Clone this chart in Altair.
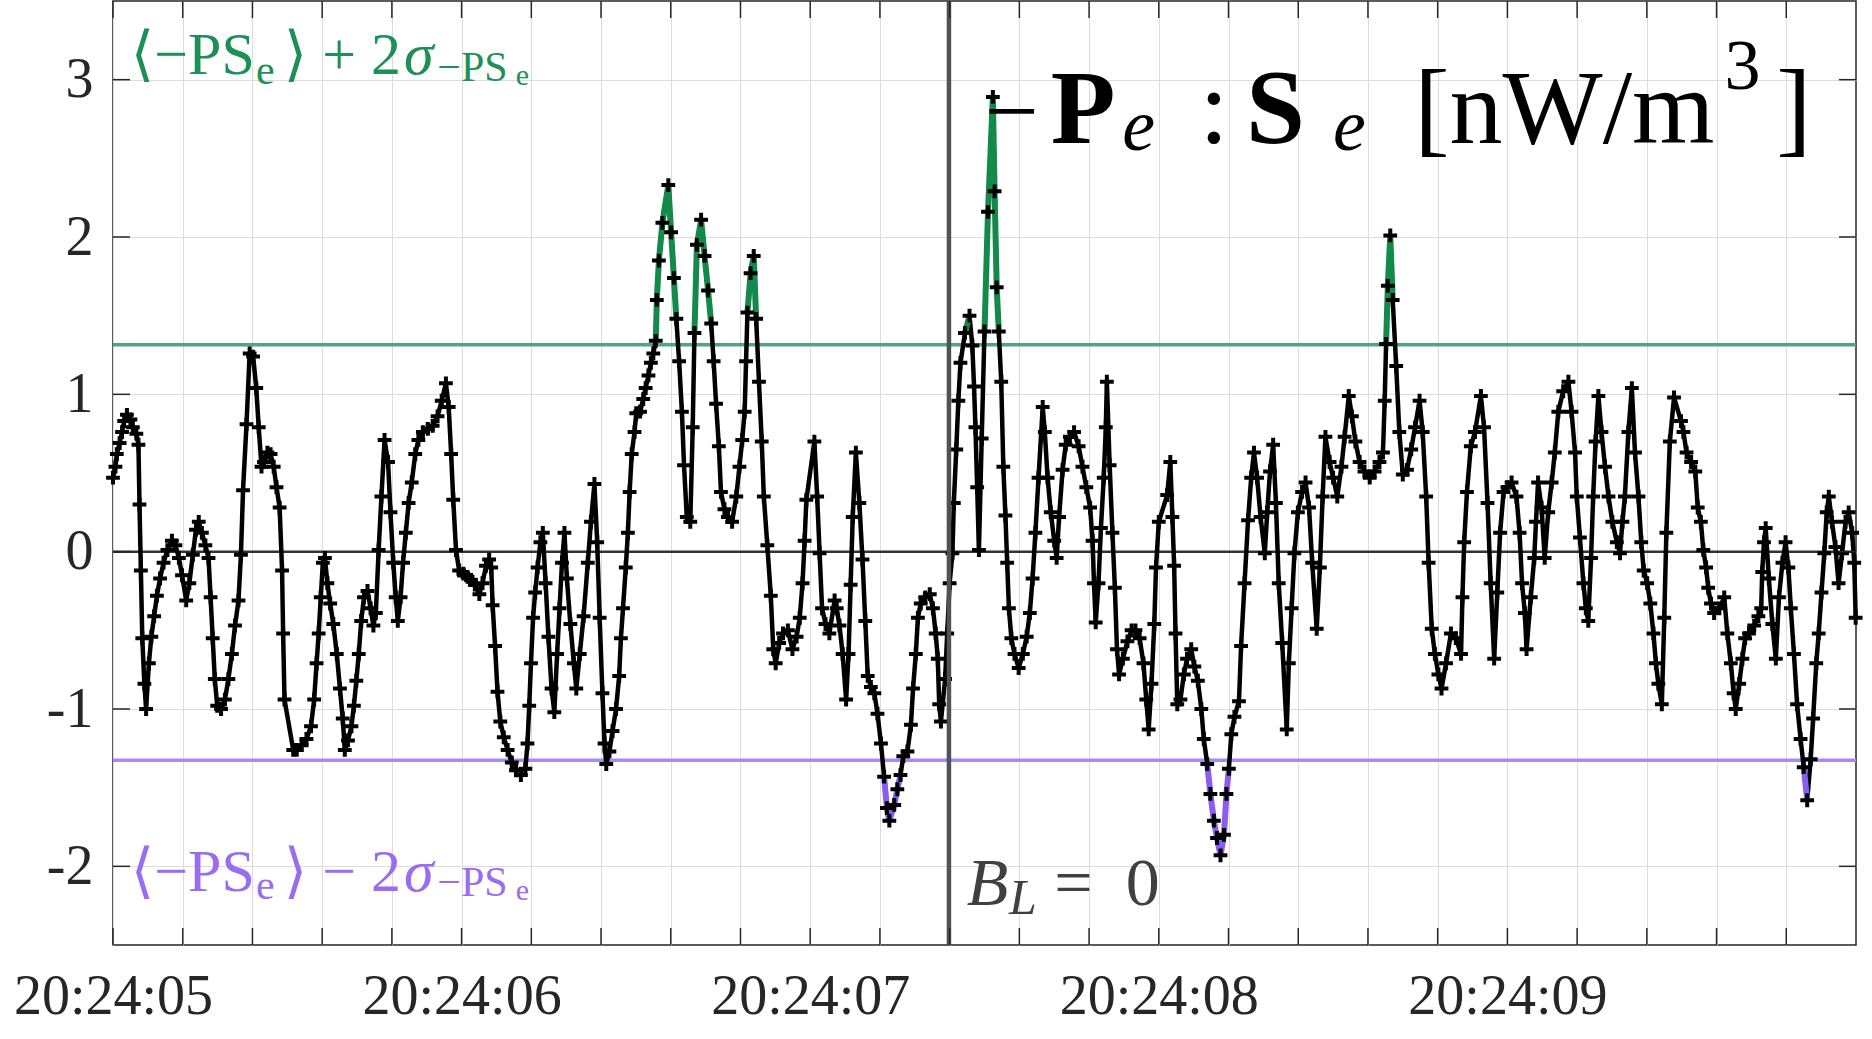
import altair as alt
import pandas as pd

# ---------------- data (seconds after 20:24:05, nW/m^3) ----------------
time_s = [
    0.000, 0.007, 0.011, 0.019, 0.026, 0.032, 0.040, 0.050, 0.057, 0.067, 0.073, 0.076, 0.080, 0.084, 0.090, 0.095,
    0.103, 0.110, 0.118, 0.126, 0.135, 0.145, 0.156, 0.169, 0.179, 0.189, 0.198, 0.210, 0.219, 0.229, 0.238, 0.246,
    0.255, 0.265, 0.274, 0.280, 0.286, 0.292, 0.299, 0.310, 0.321, 0.331, 0.341, 0.350, 0.360, 0.367, 0.373, 0.383,
    0.392, 0.402, 0.411, 0.418, 0.426, 0.433, 0.443, 0.452, 0.461, 0.469, 0.478, 0.485, 0.488, 0.492,
    0.517, 0.527, 0.541, 0.555, 0.568, 0.577, 0.584, 0.590, 0.596, 0.602, 0.608, 0.615, 0.623, 0.632, 0.642, 0.651,
    0.659, 0.665, 0.674, 0.684, 0.691, 0.698, 0.705, 0.712, 0.720, 0.730, 0.739, 0.747, 0.754, 0.762, 0.770, 0.779,
    0.789, 0.796, 0.804, 0.811, 0.817, 0.825, 0.832, 0.840, 0.848, 0.857, 0.867, 0.876, 0.889, 0.903, 0.917, 0.931,
    0.943, 0.955, 0.963, 0.970, 0.976, 0.984, 0.993,
    1.005, 1.017, 1.027, 1.038, 1.051, 1.060, 1.070, 1.079, 1.085, 1.089, 1.096, 1.103, 1.111, 1.121, 1.132, 1.144,
    1.156, 1.170, 1.183, 1.189, 1.194, 1.199, 1.205, 1.211, 1.218, 1.226, 1.233, 1.241, 1.249, 1.258, 1.266, 1.274,
    1.281, 1.288, 1.295, 1.302, 1.312, 1.322, 1.329, 1.339, 1.350, 1.362, 1.371, 1.381, 1.389, 1.396, 1.404, 1.410,
    1.415, 1.424, 1.433, 1.443, 1.452, 1.457, 1.463, 1.471, 1.477, 1.482, 1.488, 1.496, 1.501,
    1.512, 1.521, 1.528, 1.536, 1.543, 1.550, 1.557, 1.560, 1.566, 1.576, 1.593, 1.601, 1.609, 1.616, 1.624, 1.632,
    1.638, 1.646, 1.656, 1.663, 1.668, 1.675, 1.687, 1.697, 1.707, 1.716, 1.723, 1.730, 1.738, 1.744, 1.754, 1.764,
    1.776, 1.788, 1.797, 1.805, 1.812, 1.816, 1.820, 1.829, 1.838, 1.845, 1.853, 1.861, 1.867, 1.877, 1.887, 1.894,
    1.901, 1.911, 1.922, 1.936, 1.949, 1.961, 1.970, 1.978, 1.984, 1.989,
    2.012, 2.020, 2.027, 2.034, 2.044, 2.055, 2.070, 2.076, 2.084, 2.093, 2.103, 2.110, 2.116, 2.122, 2.131, 2.141,
    2.150, 2.158, 2.165, 2.174, 2.184, 2.193, 2.203, 2.212, 2.220, 2.227, 2.241, 2.250, 2.259, 2.267, 2.279, 2.289,
    2.295, 2.303, 2.309, 2.317, 2.330, 2.343, 2.352, 2.360, 2.366, 2.370, 2.375, 2.387, 2.393, 2.400, 2.408, 2.412,
    2.419, 2.425, 2.431, 2.444, 2.457, 2.465, 2.470, 2.474, 2.479, 2.484,
    2.492, 2.500, 2.510, 2.524, 2.529, 2.535, 2.541, 2.548, 2.554, 2.560, 2.565, 2.570, 2.577, 2.586, 2.598, 2.610,
    2.621, 2.630, 2.638, 2.646, 2.655, 2.667, 2.673, 2.681, 2.690, 2.700, 2.707, 2.714, 2.724, 2.733, 2.745, 2.757,
    2.770, 2.781, 2.792, 2.803, 2.810, 2.814, 2.819, 2.827, 2.834, 2.842, 2.848, 2.851, 2.859, 2.867, 2.874, 2.880,
    2.886, 2.897, 2.910, 2.922, 2.933, 2.945, 2.956, 2.964, 2.971, 2.979, 2.987, 2.992, 3.000,
    3.024, 3.033, 3.039, 3.044, 3.048, 3.053, 3.062, 3.072, 3.081, 3.093, 3.102, 3.112, 3.122, 3.129, 3.139, 3.148,
    3.158, 3.167, 3.177, 3.187, 3.194, 3.201, 3.208, 3.217, 3.230, 3.236, 3.246, 3.256, 3.265, 3.273, 3.282, 3.292,
    3.304, 3.311, 3.319, 3.328, 3.336, 3.344, 3.354, 3.367, 3.373, 3.381, 3.389, 3.399, 3.411, 3.421, 3.431, 3.440,
    3.453, 3.462, 3.470, 3.478,
    3.490, 3.500, 3.512, 3.524, 3.533, 3.545, 3.554, 3.564, 3.576, 3.590, 3.605, 3.619, 3.633, 3.643, 3.648, 3.652,
    3.657, 3.664, 3.671, 3.681, 3.690, 3.700, 3.712, 3.724, 3.735, 3.748, 3.757, 3.767, 3.774, 3.783, 3.792, 3.802,
    3.811, 3.824, 3.838, 3.852, 3.867, 3.871, 3.876, 3.884, 3.895, 3.907, 3.924, 3.933, 3.943, 3.952, 3.962, 3.971,
    3.979, 3.989,
    4.000, 4.012, 4.026, 4.035, 4.042, 4.050, 4.055, 4.067, 4.077, 4.082, 4.088, 4.098, 4.107, 4.117, 4.127, 4.136,
    4.146, 4.160, 4.175, 4.184, 4.194, 4.199, 4.208, 4.218, 4.225, 4.232, 4.240, 4.246, 4.253, 4.261, 4.270, 4.280,
    4.290, 4.301, 4.314, 4.323, 4.330, 4.337, 4.347, 4.357, 4.366, 4.376, 4.384, 4.391, 4.401, 4.410, 4.419, 4.426,
    4.433, 4.443, 4.450, 4.456, 4.466, 4.478,
    4.498, 4.505, 4.514, 4.527, 4.539, 4.546, 4.555, 4.562, 4.570, 4.576, 4.584, 4.593, 4.608, 4.622, 4.631, 4.641,
    4.649, 4.655, 4.665, 4.674, 4.682, 4.693, 4.708, 4.720, 4.728, 4.731, 4.736, 4.741, 4.750, 4.760, 4.770, 4.779,
    4.789, 4.798, 4.806, 4.813, 4.822, 4.831, 4.841, 4.850, 4.860, 4.870, 4.877, 4.886, 4.893, 4.901, 4.909, 4.916,
    4.922, 4.931, 4.941, 4.950, 4.960, 4.970, 4.979, 4.989, 4.995, 4.999,
]

ps_value = [
    0.47, 0.54, 0.62, 0.69, 0.76, 0.83, 0.87, 0.84, 0.79, 0.75, 0.68, 0.30, -0.12, -0.55, -0.84, -1.00,
    -0.71, -0.54, -0.41, -0.28, -0.17, -0.07, 0.01, 0.07, 0.04, -0.04, -0.15, -0.31, -0.20, -0.02, 0.14, 0.19,
    0.12, 0.04, -0.04, -0.29, -0.55, -0.81, -0.98, -1.00, -0.94, -0.81, -0.65, -0.47, -0.31, -0.02, 0.39, 0.81,
    1.26, 1.24, 1.04, 0.79, 0.54, 0.57, 0.63, 0.62, 0.54, 0.41, 0.28, -0.12, -0.52, -0.94,
    -1.26, -1.26, -1.23, -1.19, -1.11, -0.94, -0.71, -0.52, -0.29, -0.07, -0.04, -0.20, -0.33, -0.46, -0.65, -0.87,
    -1.06, -1.26, -1.20, -1.11, -0.98, -0.82, -0.65, -0.44, -0.29, -0.25, -0.36, -0.47, -0.39, 0.01, 0.35, 0.71,
    0.57, 0.25, -0.07, -0.29, -0.44, -0.29, -0.07, 0.12, 0.31, 0.44, 0.62, 0.71, 0.76, 0.78, 0.80, 0.86,
    0.96, 1.07, 0.92, 0.62, 0.33, 0.01, -0.12,
    -0.14, -0.16, -0.18, -0.21, -0.27, -0.20, -0.09, -0.05, -0.10, -0.34, -0.60, -0.89, -1.08, -1.18, -1.26, -1.34,
    -1.39, -1.42, -1.38, -1.22, -0.98, -0.71, -0.42, -0.26, -0.10, 0.06, 0.12, -0.20, -0.54, -0.87, -1.02, -0.65,
    -0.36, -0.07, 0.12, -0.17, -0.46, -0.71, -0.87, -0.65, -0.41, -0.07, 0.19, 0.43, 0.06, -0.42, -0.90, -1.22,
    -1.35, -1.27, -1.14, -1.00, -0.79, -0.55, -0.36, -0.10, 0.12, 0.38, 0.62, 0.76, 0.88,
    0.89, 0.97, 1.04, 1.12, 1.20, 1.26, 1.34, 1.60, 1.85, 2.09, 2.33, 2.03, 1.74, 1.48, 1.21, 0.89,
    0.55, 0.22, 0.19, 0.79, 1.39, 1.95, 2.11, 1.88, 1.66, 1.45, 1.21, 0.94, 0.67, 0.38, 0.27, 0.22,
    0.19, 0.35, 0.54, 0.71, 0.89, 1.21, 1.52, 1.77, 1.88, 1.48, 1.08, 0.70, 0.35, 0.04, -0.28, -0.62,
    -0.71, -0.58, -0.52, -0.50, -0.62, -0.54, -0.42, -0.20, 0.07, 0.33,
    0.70, 0.35, -0.01, -0.36, -0.46, -0.52, -0.31, -0.36, -0.47, -0.65, -0.94, -0.65, -0.21, 0.22, 0.63, 0.31,
    -0.05, -0.44, -0.79, -0.86, -0.90, -1.03, -1.22, -1.43, -1.63, -1.71, -1.61, -1.51, -1.42, -1.30, -1.27, -1.10,
    -0.87, -0.65, -0.42, -0.33, -0.29, -0.27, -0.36, -0.52, -0.68, -0.97, -1.08, -0.81, -0.52, -0.20, -0.01, 0.31,
    0.65, 0.96, 1.20, 1.39, 1.50, 1.31, 1.05, 0.79, 0.41, 0.01,
    0.72, 1.40, 2.16, 2.89, 2.29, 1.68, 1.40, 1.08, 0.54, 0.23, -0.07, -0.36, -0.55, -0.65, -0.74, -0.65,
    -0.54, -0.39, -0.17, 0.12, 0.47, 0.92, 0.76, 0.47, 0.25, 0.07, -0.04, 0.22, 0.52, 0.68, 0.73, 0.76,
    0.67, 0.54, 0.41, 0.28, 0.07, -0.20, -0.45, -0.20, 0.15, 0.47, 0.79, 1.08, 0.55, 0.12, -0.23, -0.62,
    -0.78, -0.68, -0.57, -0.50, -0.50, -0.55, -0.71, -0.94, -1.13, -0.84, -0.46, -0.10, 0.19,
    0.36, 0.57, 0.22, -0.09, -0.52, -0.97, -0.94, -0.78, -0.68, -0.62, -0.73, -0.82, -1.00, -1.19, -1.35, -1.54,
    -1.71, -1.82, -1.93, -1.80, -1.54, -1.38, -1.16, -1.05, -0.95, -0.60, -0.20, 0.20, 0.47, 0.63, 0.47, 0.22,
    -0.01, 0.25, 0.51, 0.68, 0.31, -0.20, -0.58, -1.13, -0.71, -0.36, -0.01, 0.25, 0.38, 0.44, 0.28, -0.07,
    -0.49, -0.10, 0.35, 0.73,
    0.57, 0.47, 0.35, 0.54, 0.73, 0.99, 0.86, 0.70, 0.57, 0.51, 0.47, 0.51, 0.57, 0.63, 0.96, 1.32,
    1.69, 2.01, 1.60, 1.18, 0.76, 0.49, 0.52, 0.65, 0.79, 0.96, 0.76, 0.35, -0.07, -0.49, -0.65, -0.78,
    -0.87, -0.71, -0.52, -0.55, -0.65, -0.29, 0.06, 0.38, 0.67, 0.76, 0.99, 0.79, 0.31, -0.20, -0.68, -0.26,
    0.12, 0.38,
    0.41, 0.44, 0.35, 0.12, -0.20, -0.39, -0.62, -0.29, -0.04, 0.19, 0.44, 0.28, -0.04, 0.25, 0.44, 0.63,
    0.89, 1.02, 1.08, 0.89, 0.63, 0.35, 0.09, -0.20, -0.36, -0.44, -0.04, 0.35, 0.70, 0.99, 0.76, 0.54,
    0.35, 0.19, 0.06, -0.01, 0.19, 0.35, 0.76, 1.04, 0.63, 0.35, 0.06, -0.12, -0.20, -0.33, -0.52, -0.71,
    -0.84, -0.97, -0.42, 0.12, 0.70, 0.98,
    0.83, 0.76, 0.63, 0.57, 0.51, 0.28, 0.19, 0.01, -0.10, -0.23, -0.33, -0.39, -0.36, -0.29, -0.52, -0.71,
    -0.90, -1.00, -0.84, -0.68, -0.55, -0.52, -0.47, -0.41, -0.36, -0.13, 0.06, 0.15, -0.17, -0.46, -0.68, -0.29,
    -0.07, 0.06, -0.10, -0.36, -0.65, -0.97, -1.19, -1.37, -1.58, -1.32, -1.06, -0.71, -0.52, -0.26, -0.01, 0.25,
    0.35, 0.19, 0.03, -0.20, -0.01, 0.19, 0.25, 0.12, -0.07, -0.42,
]

upper_threshold = 1.315    # <-PS_e> + 2 sigma
lower_threshold = -1.325   # <-PS_e> - 2 sigma
bl_zero_time = 2.398       # B_L = 0 crossing

x_tick_values = [0.0, 0.2, 0.4, 0.6, 0.8, 1.0, 1.2, 1.4, 1.6, 1.8, 2.0, 2.2, 2.4,
                 2.6, 2.8, 3.0, 3.2, 3.4, 3.6, 3.8, 4.0, 4.2, 4.4, 4.6, 4.8]
x_label_times = [0, 1, 2, 3, 4]
x_label_texts = ["20:24:05", "20:24:06", "20:24:07", "20:24:08", "20:24:09"]
y_tick_values = [-2, -1, 0, 1, 2, 3]
y_tick_labels = ["-2", "-1", "0", "1", "2", "3"]

# annotation pieces (text, time, value, font size, style, weight, colour)
ann_text = ["\u2212", "P", "e", ":", "S", "e", "[nW/m", "3", "]",
            "\u27e8\u2212PS", "e", "\u27e9 + 2", "\u03c3", "\u2212PS", "e",
            "\u27e8\u2212PS", "e", "\u27e9 \u2212 2", "\u03c3", "\u2212PS", "e",
            "B", "L", "=", "0"]
ann_time = [2.500, 2.690, 2.895, 3.116, 3.250, 3.500, 3.733, 4.623, 4.771,
            0.051, 0.410, 0.490, 0.835, 0.930, 1.155,
            0.051, 0.410, 0.490, 0.835, 0.930, 1.155,
            2.449, 2.570, 2.700, 2.905]
ann_value = [2.597, 2.597, 2.550, 2.597, 2.597, 2.550, 2.597, 2.940, 2.597,
             3.037, 2.975, 3.037, 3.037, 2.990, 2.965,
             -2.157, -2.210, -2.157, -2.157, -2.190, -2.215,
             -2.247, -2.300, -2.247, -2.247]
ann_size = [96, 106, 74, 106, 106, 74, 106, 72, 106,
            60, 42, 60, 60, 42, 30,
            60, 42, 60, 60, 42, 30,
            68, 50, 68, 68]
ann_style = ["normal", "normal", "italic", "normal", "normal", "italic", "normal", "normal", "normal",
             "normal", "normal", "normal", "italic", "normal", "normal",
             "normal", "normal", "normal", "italic", "normal", "normal",
             "italic", "italic", "normal", "normal"]
ann_weight = ["normal", "bold", "normal", "normal", "bold", "normal", "normal", "normal", "normal"] + \
             ["normal"] * 16
ann_color = ["#000000"] * 9 + ["#1f8f58"] * 6 + ["#9a6cf0"] * 6 + ["#404040"] * 4

# ---------------- styling ----------------
FONT = "Liberation Serif, DejaVu Serif, serif"
PLOT_W, PLOT_H = 1743, 944
TICK_LEN = 17
LINE_GREEN, SEG_GREEN = "#52a47c", "#138a4c"
LINE_PURPLE, SEG_PURPLE = "#a98bef", "#8a5df0"

df = pd.DataFrame({"time": time_s, "value": ps_value})
above = df["value"] > upper_threshold
below = df["value"] < lower_threshold
df["up_run"] = (above != above.shift()).cumsum()
df["low_run"] = (below != below.shift()).cumsum()
up_df = df[above]
low_df = df[below]

x_expr = " : ".join(f"abs(datum.value - {t}) < 0.01 ? '{lab}'"
                    for t, lab in zip(x_label_times, x_label_texts)) + " : ''"
y_expr = " : ".join(f"datum.value == {v} ? '{lab}'"
                    for v, lab in zip(y_tick_values, y_tick_labels)) + " : ''"

x_axis = alt.Axis(values=x_tick_values, labelExpr=x_expr, title=None, ticks=False, domain=False,
                  grid=True, gridColor="#dcdcdc", gridWidth=1, labelFont=FONT, labelFontSize=56,
                  labelColor="#262626", labelPadding=24, labelFlush=False, labelOverlap=False,
                  labelLimit=0)
y_axis = alt.Axis(values=y_tick_values, labelExpr=y_expr, title=None, ticks=False, domain=False,
                  grid=True, gridColor="#dcdcdc", gridWidth=1, labelFont=FONT, labelFontSize=56,
                  labelColor="#262626", labelPadding=20, labelOverlap=False, labelLimit=0)
x_scale = alt.Scale(domain=[0, 5.0], nice=False, zero=False)
y_scale = alt.Scale(domain=[-2.5, 3.5], nice=False, zero=False)


def X(field="time"):
    return alt.X(f"{field}:Q", scale=x_scale, axis=x_axis)


def Y(field="value"):
    return alt.Y(f"{field}:Q", scale=y_scale, axis=y_axis)


layers = []
# threshold lines and zero line
layers.append(alt.Chart(pd.DataFrame({"value": [upper_threshold]}))
              .mark_rule(color=LINE_GREEN, strokeWidth=3.5).encode(y=Y()))
layers.append(alt.Chart(pd.DataFrame({"value": [lower_threshold]}))
              .mark_rule(color=LINE_PURPLE, strokeWidth=3.5).encode(y=Y()))
layers.append(alt.Chart(pd.DataFrame({"value": [0.0]}))
              .mark_rule(color="#333333", strokeWidth=2.5).encode(y=Y()))
# main series
layers.append(alt.Chart(df).mark_line(color="black", strokeWidth=4.5, strokeJoin="round")
              .encode(x=X(), y=Y(), order="time:Q"))
layers.append(alt.Chart(up_df).mark_line(color=SEG_GREEN, strokeWidth=6)
              .encode(x=X(), y=Y(), detail="up_run:N", order="time:Q"))
layers.append(alt.Chart(low_df).mark_line(color=SEG_PURPLE, strokeWidth=6)
              .encode(x=X(), y=Y(), detail="low_run:N", order="time:Q"))
layers.append(alt.Chart(df).mark_point(shape="M-1,0L1,0M0,-1L0,1", filled=False, color="black",
                                       strokeWidth=4, size=190, opacity=1)
              .encode(x=X(), y=Y()))
# B_L = 0 vertical line
layers.append(alt.Chart(pd.DataFrame({"time": [bl_zero_time]}))
              .mark_rule(color="#4d5359", strokeWidth=4.5).encode(x=X()))
# inward ticks
xt = pd.DataFrame({"time": x_tick_values})
yt = pd.DataFrame({"value": y_tick_values})
layers.append(alt.Chart(xt).mark_rule(color="#262626", strokeWidth=1.5)
              .encode(x=X(), y=alt.value(PLOT_H), y2=alt.value(PLOT_H - TICK_LEN)))
layers.append(alt.Chart(xt).mark_rule(color="#262626", strokeWidth=1.5)
              .encode(x=X(), y=alt.value(0), y2=alt.value(TICK_LEN)))
layers.append(alt.Chart(yt).mark_rule(color="#262626", strokeWidth=1.5)
              .encode(y=Y(), x=alt.value(0), x2=alt.value(TICK_LEN)))
layers.append(alt.Chart(yt).mark_rule(color="#262626", strokeWidth=1.5)
              .encode(y=Y(), x=alt.value(PLOT_W), x2=alt.value(PLOT_W - TICK_LEN)))

# text annotations
ann = pd.DataFrame({"text": ann_text, "time": ann_time, "value": ann_value, "size": ann_size,
                    "style": ann_style, "weight": ann_weight, "color": ann_color})
for (style, weight, color), sub in ann.groupby(["style", "weight", "color"]):
    layers.append(alt.Chart(sub).mark_text(align="left", baseline="alphabetic", font=FONT,
                                           fontStyle=style, fontWeight=weight, color=color)
                  .encode(x=X(), y=Y(), text="text:N",
                          size=alt.Size("size:Q", scale=None, legend=None)))

chart = (alt.layer(*layers)
         .properties(width=PLOT_W, height=PLOT_H,
                     autosize=alt.AutoSizeParams(type="none"),
                     padding={"left": 113, "top": 1, "right": 16, "bottom": 94},
                     background="white")
         .configure_view(stroke="#262626", strokeWidth=1.5))

chart.save("out.html", embed_options={"renderer": "svg", "actions": False})
